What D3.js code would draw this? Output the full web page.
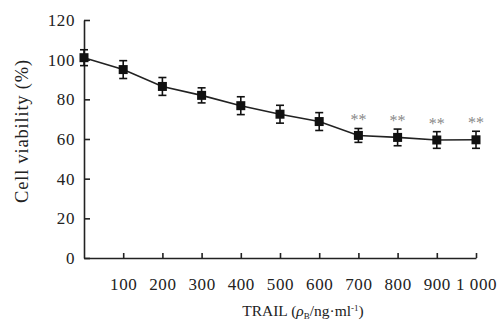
<!DOCTYPE html>
<head>
  <meta charset="utf-8">
  <title></title>
  <script src="https://cdn.jsdelivr.net/npm/d3@7"></script>
</head>
<style media="screen">
  body { margin: 0; background: white; }
  text { font-family: "Liberation Serif", "DejaVu Serif", serif; fill: #222; }
  .axis path, .axis line { stroke: #222; stroke-width: 1.6px; }
</style>
<body>
  <svg id="chart" width="503" height="322"></svg>
  <script>
    // TRAIL concentration and viability readings
    var doses = [0, 100, 200, 300, 400, 500, 600, 700, 800, 900, 1000]
    var viability = [101, 95, 86.5, 82, 76.8, 72.5, 68.8, 61.8, 60.8, 59.5, 59.6]
    var errs = [4, 4.5, 4.5, 3.8, 4.5, 4.5, 4.5, 3.5, 4.2, 4.2, 4.3]
    var signif = ["", "", "", "", "", "", "", "**", "**", "**", "**"]
    var xTicks = [100, 200, 300, 400, 500, 600, 700, 800, 900, 1000]
    var yTicks = [0, 20, 40, 60, 80, 100, 120]

    var svg = d3.select("#chart")
    var x = d3.scaleLinear().domain([0, 1000]).range([84, 476])
    var y = d3.scaleLinear().domain([0, 120]).range([258, 20])

    var xAxis = svg.append("g").attr("class", "axis")
      .attr("transform", "translate(0,258)")
      .call(d3.axisBottom(x).tickValues(xTicks).tickSizeInner(-5).tickSizeOuter(0)
        .tickFormat(d => d == 1000 ? "1 000" : d))
    xAxis.selectAll("text").attr("y", 20).style("font-size", "17px").style("letter-spacing", "0.6px")

    var yAxis = svg.append("g").attr("class", "axis")
      .attr("transform", "translate(84,0)")
      .call(d3.axisLeft(y).tickValues(yTicks).tickSizeInner(-6).tickSizeOuter(0))
    yAxis.selectAll("text").attr("x", -9).style("font-size", "17px").style("letter-spacing", "0.6px")

    svg.append("text")
      .attr("transform", "translate(28,131) rotate(-90)")
      .attr("text-anchor", "middle")
      .style("font-size", "18.5px")
      .style("letter-spacing", "0.8px")
      .text("Cell viability (%)")

    var xt = svg.append("text")
      .attr("x", 303).attr("y", 316)
      .attr("text-anchor", "middle")
      .style("font-size", "15.5px")
    xt.append("tspan").text("TRAIL (")
    xt.append("tspan").style("font-style", "italic").text("ρ")
    xt.append("tspan").attr("dy", 3).style("font-size", "9px").text("B")
    xt.append("tspan").attr("dy", -3).text("/ng·ml")
    xt.append("tspan").attr("dy", -5).style("font-size", "9px").text("-1")
    xt.append("tspan").attr("dy", 5).text(")")

    var pts = doses.map((d, i) => ({ d: d, v: viability[i], e: errs[i], s: signif[i] }))

    svg.append("path")
      .datum(pts)
      .attr("fill", "none")
      .attr("stroke", "#222")
      .attr("stroke-width", 1.6)
      .attr("d", d3.line().x(p => x(p.d)).y(p => y(p.v)))

    var bars = svg.append("g").attr("stroke", "#111").attr("stroke-width", 1.6)
    bars.selectAll(".v").data(pts).enter().append("line")
      .attr("x1", p => x(p.d)).attr("x2", p => x(p.d))
      .attr("y1", p => y(p.v - p.e)).attr("y2", p => y(p.v + p.e))
    bars.selectAll(".t").data(pts).enter().append("line")
      .attr("x1", p => x(p.d) - 4).attr("x2", p => x(p.d) + 4)
      .attr("y1", p => y(p.v + p.e)).attr("y2", p => y(p.v + p.e))
    bars.selectAll(".b").data(pts).enter().append("line")
      .attr("x1", p => x(p.d) - 4).attr("x2", p => x(p.d) + 4)
      .attr("y1", p => y(p.v - p.e)).attr("y2", p => y(p.v - p.e))

    svg.selectAll(".pt").data(pts).enter().append("rect")
      .attr("x", p => x(p.d) - 4.5).attr("y", p => y(p.v) - 4.5)
      .attr("width", 9).attr("height", 9)
      .attr("fill", "#111")

    svg.selectAll(".star").data(pts.filter(p => p.s)).enter().append("text")
      .attr("x", p => x(p.d)).attr("y", p => y(p.v + p.e) - 3)
      .attr("text-anchor", "middle")
      .style("font-size", "16px")
      .style("fill", "#888")
      .text(p => p.s)
  </script>
</body>
</html>
